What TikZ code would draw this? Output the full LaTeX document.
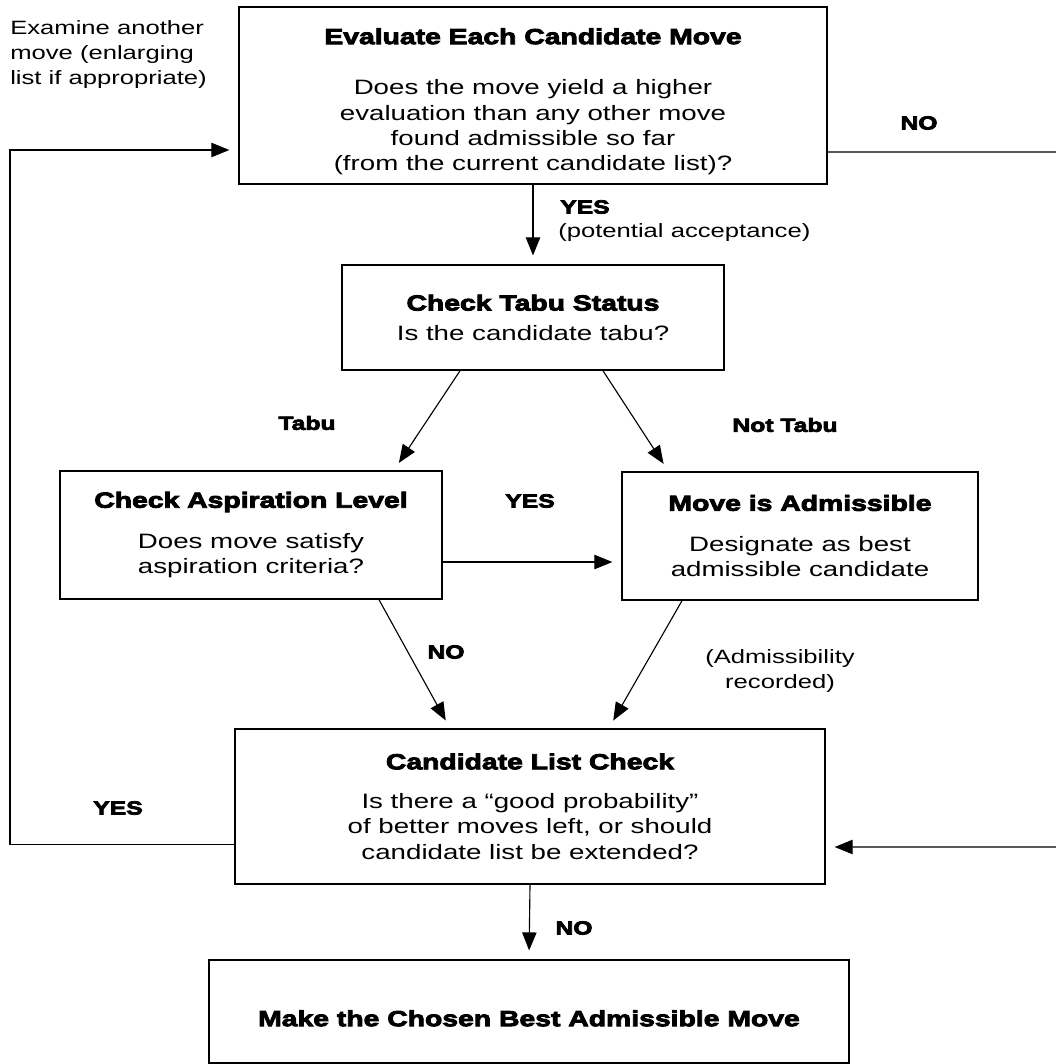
\documentclass[tikz,border=0pt]{standalone}
\usepackage{fontspec}
\setmainfont{Liberation Sans}[FakeStretch=1.33]
\newfontfamily\hdfont{Liberation Sans Bold}[FakeStretch=1.3,FakeBold=4]
\usetikzlibrary{arrows.meta}
\newcommand{\bodyfnt}{\fontsize{14.8pt}{18pt}\selectfont}
\newcommand{\sidefnt}{\fontsize{13.7pt}{18pt}\selectfont}
\newcommand{\hd}{\hdfont\fontsize{15.5pt}{18pt}\selectfont}
\newcommand{\lb}{\hdfont\fontsize{13.5pt}{18pt}\selectfont}
\tikzset{
    box/.style={draw, line width=1.1pt, align=center, inner sep=0pt, font=\bodyfnt},
    txt/.style={inner sep=0pt, font=\sidefnt},
    tag/.style={inner sep=0pt, font=\lb},
    arr/.style={-{Triangle[length=0.45cm,width=0.36cm]}, line width=0.8pt, shorten >=0.22cm}
}
\begin{document}
\begin{tikzpicture}[x=0.025cm, y=-0.025cm]
    \useasboundingbox (0,0) rectangle (1055,1064);
    % boxes
    \node[box, minimum width=14.7cm, minimum height=4.425cm] (eval) at (533,95.5)
        {{\hd\rule{0pt}{20pt}Evaluate Each Candidate Move}\\[18pt]Does the move yield a higher\\evaluation than any other move\\found admissible so far\\(from the current candidate list)?};
    \node[box, minimum width=9.55cm, minimum height=2.625cm] (tabu) at (533,317.5)
        {{\hd Check Tabu Status}\\[3pt]Is the candidate tabu?};
    \node[box, minimum width=9.55cm, minimum height=3.2cm] (asp) at (251,535)
        {{\hd Check Aspiration Level}\\[11pt]Does move satisfy\\aspiration criteria?};
    \node[box, minimum width=8.9cm, minimum height=3.2cm] (adm) at (800,536)
        {{\hd Move is Admissible}\\[11pt]Designate as best\\admissible candidate};
    \node[box, minimum width=14.75cm, minimum height=3.875cm] (cand) at (530,806.5)
        {{\hd Candidate List Check}\\[10pt]Is there a ``good probability''\\of better moves left, or should\\candidate list be extended?};
    \node[box, minimum width=16cm, minimum height=2.575cm] (best) at (529,1011.5)
        {\hd\rule{0pt}{21pt}Make the Chosen Best Admissible Move};
    % labels
    \node[txt, anchor=north west, align=left] (examine) at (10,20)
        {Examine another\\move (enlarging\\list if appropriate)};
    \node[tag, anchor=west] (yes1) at (560,207) {YES};
    \node[txt, anchor=west] (accept) at (558,233) {(potential acceptance)};
    \node[tag] (no1) at (919,123) {NO};
    \node[tag] (tabulbl) at (307,423) {Tabu};
    \node[tag] (nottabu) at (785,425) {Not Tabu};
    \node[tag] (yes2) at (530,501) {YES};
    \node[tag] (no2) at (446,652) {NO};
    \node[txt, align=center] (record) at (780,671) {(Admissibility\\recorded)};
    \node[tag] (yes3) at (118,808) {YES};
    \node[tag] (no3) at (574,928) {NO};
    % turning points
    \coordinate (lp) at (10,150);
    \coordinate (rt) at (1068,152);
    \coordinate (rb) at (1068,847);
    \coordinate (yesA) at ([yshift=-0.675cm]asp.east);
    \coordinate (yesB) at ([yshift=-0.96cm]cand.west);
    \coordinate (noA) at ([yshift=-1.4125cm]eval.east);
    % connectors
    \draw[arr] (eval.south) -- (tabu.north);
    \draw[arr] ([xshift=-1.825cm]tabu.south) -- ([xshift=3.575cm]asp.north);
    \draw[arr] ([xshift=1.75cm]tabu.south) -- ([xshift=-3.29cm]adm.north);
    \draw[arr] (yesA) -- (yesA -| adm.west);
    \draw[arr] ([xshift=3.2cm]asp.south) -- ([xshift=-2cm]cand.north);
    \draw[arr] ([xshift=-2.95cm]adm.south) -- ([xshift=1.97cm]cand.north);
    \draw[arr] (cand.south) -- (best.north);
    \draw[arr] (yesB) -| (lp) -- (lp -| eval.west);
    \draw[arr] (noA) -- (rt) -- (rb) -- (rb -| cand.east);
\end{tikzpicture}
\end{document}
